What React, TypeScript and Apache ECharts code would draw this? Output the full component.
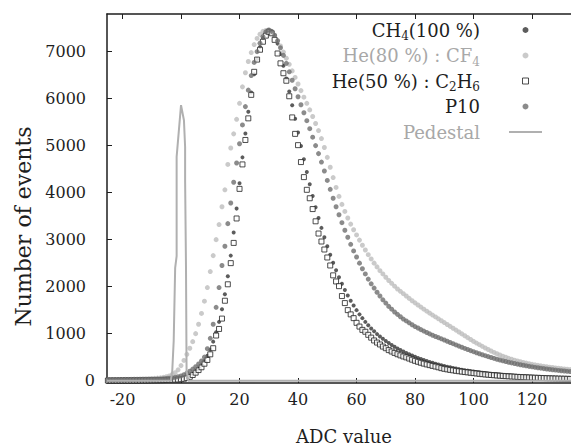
import React, { useEffect, useRef } from "react";
import * as echarts from "echarts";

// ADC channels start at -25 (one value per channel)
const ADC_FIRST = -25;

// CH4 (100 %)
const ch4 = [
  5, 6, 6, 7, 7, 8, 8, 9, 10, 10, 11, 12, 13, 14, 15, 16, 18, 20, 22, 24, 27, 30, 34, 38, 44,
  52, 65, 85, 115, 155, 205, 265, 335, 420, 530, 660, 830, 1030, 1250, 1520, 1840, 2220, 2660, 3150, 3660,
  4200, 4750, 5260, 5720, 6130, 6520, 6840, 7100, 7290, 7410, 7460, 7430, 7340, 7170, 6950, 6700, 6430, 6150, 5860, 5570,
  5280, 4990, 4710, 4440, 4180, 3930, 3690, 3460, 3250, 3050, 2860, 2680, 2510, 2350, 2200, 2060, 1930, 1810, 1700, 1600,
  1500, 1410, 1330, 1250, 1180, 1110, 1050, 990, 940, 890, 845, 800, 760, 722, 686, 652, 620, 590, 561, 534,
  508, 484, 461, 439, 418, 398, 379, 361, 344, 328, 312, 297, 283, 270, 257, 245, 234, 223, 213, 203,
  194, 185, 177, 169, 161, 154, 147, 141, 135, 129, 123, 118, 113, 108, 104, 99, 95, 91, 88, 84,
  81, 78, 75, 72, 69, 66, 64, 61, 59, 57, 55, 53, 51, 49,
];

// He(80 %) : CF4
const heCf4 = [
  18, 20, 21, 22, 24, 25, 27, 28, 30, 32, 34, 36, 38, 41, 44, 47, 50, 55, 60, 70, 85, 100, 130, 170, 230,
  320, 430, 560, 690, 830, 1000, 1200, 1430, 1690, 1980, 2320, 2660, 3000, 3320, 3700, 4060, 4600, 4950, 5250, 5560,
  5900, 6250, 6550, 6790, 6980, 7150, 7280, 7370, 7430, 7450, 7440, 7400, 7330, 7240, 7120, 6990, 6860, 6730, 6590, 6450,
  6310, 6170, 6030, 5900, 5760, 5620, 5470, 5320, 5150, 4960, 4750, 4540, 4320, 4110, 3920, 3750, 3600, 3460, 3330, 3210,
  3100, 2990, 2880, 2780, 2680, 2590, 2500, 2420, 2340, 2270, 2200, 2130, 2070, 2010, 1950, 1900, 1850, 1800, 1750, 1700,
  1655, 1610, 1565, 1520, 1478, 1436, 1395, 1355, 1315, 1275, 1235, 1195, 1155, 1115, 1075, 1035, 995, 955, 915, 875,
  835, 800, 765, 730, 695, 662, 630, 600, 572, 545, 520, 497, 475, 455, 436, 418, 402, 387, 373, 360,
  348, 336, 325, 315, 305, 296, 287, 279, 271, 263, 256, 249, 242, 236,
];

// He(50 %) : C2H6
const heC2h6 = [
  2, 2, 3, 2, 3, 3, 4, 3, 4, 4, 5, 5, 6, 6, 7, 8, 9, 10, 11, 12, 14, 16, 18, 20, 24,
  30, 40, 55, 80, 120, 170, 225, 285, 360, 440, 560, 690, 960, 1100, 1320, 1700, 2050, 2500, 2930, 3450,
  4080, 4600, 5120, 5580, 6080, 6570, 6830, 7040, 7210, 7340, 7420, 7390, 7250, 6960, 6750, 6540, 6380, 6050, 5600, 5250,
  5010, 4650, 4330, 4060, 3880, 3650, 3390, 3130, 2960, 2790, 2620, 2450, 2240, 2110, 2010, 1800, 1650, 1500, 1410, 1330,
  1230, 1150, 1080, 1040, 975, 915, 855, 810, 770, 725, 690, 650, 620, 590, 562, 538, 515, 495, 470, 446,
  422, 401, 381, 362, 345, 330, 314, 300, 284, 266, 252, 240, 229, 219, 209, 200, 192, 183, 176, 168,
  160, 153, 145, 138, 132, 126, 120, 115, 110, 105, 100, 96, 92, 88, 84, 80, 77, 74, 71, 68,
  65, 62, 60, 57, 55, 52, 50, 48, 46, 44, 42, 41, 39, 37,
];

// P10
const p10 = [
  12, 13, 13, 14, 15, 15, 16, 17, 18, 19, 20, 21, 22, 24, 26, 28, 30, 33, 36, 40, 45, 52, 60, 70, 85,
  100, 125, 160, 200, 245, 295, 355, 420, 500, 680, 900, 1200, 1560, 1980, 2450, 2860, 3340, 3780, 4220, 4630,
  5040, 5440, 5830, 6180, 6490, 6770, 7000, 7180, 7320, 7420, 7460, 7430, 7350, 7230, 7080, 6920, 6750, 6570, 6390, 6210,
  6040, 5870, 5700, 5530, 5360, 5180, 5000, 4830, 4650, 4460, 4260, 4070, 3880, 3700, 3530, 3360, 3200, 3050, 2900, 2760,
  2630, 2500, 2380, 2270, 2160, 2060, 1970, 1880, 1800, 1720, 1650, 1580, 1520, 1460, 1410, 1360, 1310, 1270, 1230, 1190,
  1150, 1120, 1085, 1055, 1025, 995, 965, 940, 915, 890, 865, 838, 812, 786, 760, 735, 710, 686, 662, 639,
  616, 594, 572, 551, 531, 511, 492, 474, 456, 439, 423, 407, 392, 378, 364, 351, 339, 327, 315, 304,
  294, 284, 274, 265, 256, 248, 240, 232, 225, 218, 211, 205, 199, 193,
];

// Pedestal (ADC, counts)
const pedX = [-25.3, -3.5, -3, -2.5, -2, -1.5, -1.5, 0, 1, 1.4, 1.4, 1.7, 1.9, 2.5, 133.3];
const pedY = [0, 0, 200, 850, 2400, 2650, 4760, 5860, 5540, 4970, 4260, 2420, 200, 0, 0];

const xTicks = [-20, 0, 20, 40, 60, 80, 100, 120];
const yTicks = [0, 1000, 2000, 3000, 4000, 5000, 6000, 7000];

const names = ["CH4(100 %)", "He(80 %) : CF4", "He(50 %) : C2H6", "P10", "Pedestal"];

const FONT = "DejaVu Serif";
const DARK = "#1e1e1e";
const LIGHT = "#a8a8a8";

const toPairs = (vals: number[]) => vals.map((v, i) => [ADC_FIRST + i, v]);

export default function App() {
  const ref = useRef<HTMLDivElement>(null);
  useEffect(() => {
    if (!ref.current) return;
    const chart = echarts.init(ref.current, null, { renderer: "svg" });
    const legendRich = {
      s: { fontSize: 12, verticalAlign: "bottom", lineHeight: 24, color: DARK, fontFamily: FONT },
      sl: { fontSize: 12, verticalAlign: "bottom", lineHeight: 24, color: LIGHT, fontFamily: FONT },
    };
    const legendFmt = (name: string) => {
      if (name === names[0]) return "CH{s|4}(100 %)";
      if (name === names[1]) return "He(80 %) : CF{sl|4}";
      if (name === names[2]) return "He(50 %) : C{s|2}H{s|6}";
      return name;
    };
    const xAxisBase = {
      type: "value",
      min: -25.3,
      max: 133.3,
      splitLine: { show: false },
      axisLine: { show: true, onZero: false, lineStyle: { color: DARK, width: 1.5 } },
    };
    chart.setOption({
      animation: false,
      backgroundColor: "#fff",
      grid: { left: 107, right: 0, top: 14, bottom: 63, outerBoundsMode: "none", containLabel: false },
      legend: {
        orient: "vertical",
        right: 24,
        top: 13,
        align: "right",
        itemWidth: 33,
        itemHeight: 6,
        itemGap: 1.5,
        formatter: legendFmt,
        textStyle: {
          fontFamily: FONT,
          fontSize: 18,
          lineHeight: 24,
          color: DARK,
          padding: [0, 24, 0, 0],
          rich: legendRich,
        },
        data: [
          { name: names[0], textStyle: { color: DARK } },
          { name: names[1], textStyle: { color: LIGHT } },
          {
            name: names[2],
            icon: "path://M0,0H10V10H0Z",
            itemStyle: { color: "#fff", borderColor: "#222", borderWidth: 1 },
            textStyle: { color: DARK },
          },
          { name: names[3], textStyle: { color: DARK } },
          {
            name: names[4],
            icon: "path://M0,0H36V2H0Z",
            itemStyle: { color: "#b0b0b0", borderWidth: 0 },
            textStyle: { color: LIGHT },
          },
        ],
      },
      xAxis: [
        {
          ...xAxisBase,
          position: "bottom",
          axisTick: { show: true, inside: true, length: 5, customValues: xTicks, lineStyle: { color: DARK } },
          axisLabel: { customValues: xTicks, margin: 8, fontFamily: FONT, fontSize: 16, color: DARK },
          name: "ADC value",
          nameLocation: "middle",
          nameGap: 44,
          nameTextStyle: { fontFamily: FONT, fontSize: 18, color: DARK, padding: [0, 0, 0, 10] },
        },
        {
          ...xAxisBase,
          position: "top",
          axisTick: { show: true, inside: true, length: 5, customValues: xTicks, lineStyle: { color: DARK } },
          axisLabel: { show: false },
        },
      ],
      yAxis: {
        type: "value",
        min: -50,
        max: 7800,
        splitLine: { show: false },
        axisLine: { show: true, onZero: false, lineStyle: { color: DARK, width: 1.5 } },
        axisTick: { show: true, inside: true, length: 5, customValues: yTicks, lineStyle: { color: DARK } },
        axisLabel: {
          customValues: yTicks,
          margin: 12,
          fontFamily: FONT,
          fontSize: 16,
          color: DARK,
          formatter: (v: number) => (v === 0 ? "{z|0}" : "{n|" + v + "}"),
          rich: {
            z: { fontFamily: FONT, fontSize: 16, color: DARK },
            n: { fontFamily: FONT, fontSize: 16, color: DARK, padding: [0, 9, 0, 0] },
          },
        },
        name: "Number of events",
        nameLocation: "middle",
        nameGap: 69,
        nameTextStyle: { fontFamily: FONT, fontSize: 22, color: DARK, padding: [0, 56, 0, 0] },
      },
      series: [
        {
          name: names[0],
          type: "scatter",
          data: toPairs(ch4),
          symbol: "circle",
          symbolSize: 4,
          itemStyle: { color: "#333" },
        },
        {
          name: names[1],
          type: "scatter",
          data: toPairs(heCf4),
          symbol: "circle",
          symbolSize: 5,
          itemStyle: { color: "#bdbdbd" },
        },
        {
          name: names[2],
          type: "scatter",
          data: toPairs(heC2h6),
          symbol: "rect",
          symbolSize: 5,
          itemStyle: { color: "#fff", borderColor: "#222", borderWidth: 1 },
        },
        {
          name: names[3],
          type: "scatter",
          data: toPairs(p10),
          symbol: "circle",
          symbolSize: 5,
          itemStyle: { color: "#6e6e6e" },
        },
        {
          name: names[4],
          type: "line",
          data: pedX.map((x, i) => [x, pedY[i]]),
          showSymbol: false,
          symbol: "none",
          lineStyle: { color: "#b0b0b0", width: 2 },
          itemStyle: { color: "#b0b0b0" },
        },
      ],
    });
    return () => chart.dispose();
  }, []);
  return (
    <div
      ref={ref}
      style={{ position: "fixed", left: 0, top: 0, width: 571, height: 446, background: "#fff" }}
    />
  );
}
